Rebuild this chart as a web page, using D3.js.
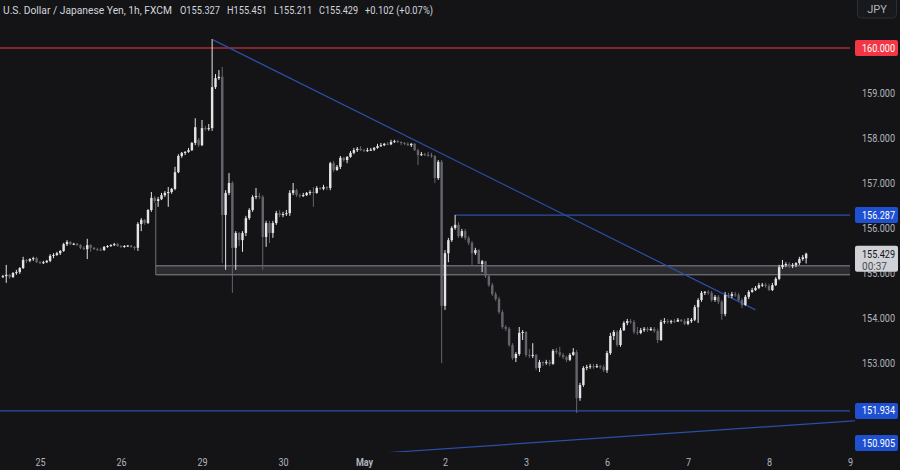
<!DOCTYPE html>
<html><head><meta charset="utf-8">
<script src="https://cdn.jsdelivr.net/npm/d3@7"></script>
<style>
html,body{margin:0;padding:0;background:#141417;}
svg{display:block;}
text{font-family:Roboto,"Noto Sans",sans-serif;}
</style></head><body>
<svg id="chart" width="900" height="470"></svg>
<script>
// ---------------- DATA ----------------
const firstBar = -11; // bar index of the first candle (bar 0 = first hour of Apr 25)
const opens = [
154.91,154.93,154.96,154.91,155.00,155.02,155.11,155.29,155.27,155.31,155.33,
155.24,155.22,155.24,155.27,155.38,155.40,155.44,155.49,155.64,155.69,
155.64,155.65,155.62,155.56,155.53,155.62,155.56,155.53,155.52,155.51,
155.58,155.60,155.62,155.64,155.60,155.58,155.60,155.61,155.58,155.56,
156.09,156.18,156.11,156.40,156.67,156.60,156.64,156.73,156.78,156.80,
156.87,157.24,157.60,157.67,157.69,157.73,157.89,157.96,157.84,158.22,
158.20,158.22,159.13,159.33,159.36,156.29,156.78,157.00,155.56,155.89,
155.73,155.89,156.22,156.40,156.69,156.71,156.69,155.80,156.11,155.89,
156.11,156.33,156.29,156.31,156.33,156.78,156.84,156.73,156.71,156.73,
156.78,156.80,156.78,156.89,156.87,156.91,156.89,157.44,157.29,157.36,
157.56,157.51,157.58,157.67,157.73,157.76,157.73,157.71,157.73,157.74,
157.78,157.82,157.84,157.87,157.86,157.91,157.93,157.91,157.89,157.87,
157.84,157.87,157.73,157.62,157.64,157.63,157.62,157.60,157.11,157.47,
154.27,155.44,155.73,156.00,156.07,155.82,155.93,155.78,155.67,155.44,
155.51,155.20,155.26,154.93,154.73,154.53,154.42,154.13,153.80,153.76,
153.40,153.11,153.20,153.67,153.69,153.18,153.16,153.18,152.89,153.02,
153.00,153.02,152.98,153.27,153.24,153.18,153.13,153.07,153.18,153.24,
152.22,152.51,152.89,152.91,152.93,152.91,152.93,152.91,152.84,153.22,
153.60,153.69,153.40,153.73,153.89,153.93,153.91,153.69,153.67,153.73,
153.76,153.73,153.76,153.71,153.51,153.91,153.93,153.91,153.93,153.92,
153.96,153.93,153.87,153.93,153.96,154.24,154.40,154.56,154.58,154.56,
154.40,154.47,154.36,154.09,154.51,154.49,154.53,154.51,154.40,154.29,
154.47,154.58,154.62,154.67,154.73,154.74,154.71,154.62,154.73,154.87,
155.13,155.18,155.20,155.16,155.18,155.22,155.31,155.327
];
const highs = [
154.96,155.18,154.98,155.02,155.07,155.13,155.36,155.31,155.33,155.36,155.36,
155.27,155.27,155.29,155.42,155.44,155.47,155.51,155.67,155.73,155.71,
155.67,155.67,155.64,155.60,155.76,155.64,155.58,155.56,155.56,155.60,
155.62,155.64,155.67,155.67,155.62,155.62,155.62,155.62,155.60,156.13,
156.22,156.20,156.42,156.80,156.71,156.69,156.78,156.82,156.91,156.89,
157.36,157.64,157.69,157.71,157.78,157.91,158.44,158.00,158.40,158.27,
158.31,160.20,159.42,159.51,159.58,156.84,157.22,157.04,155.93,155.91,
155.93,156.27,156.44,156.73,156.89,156.78,156.73,156.16,156.16,156.16,
156.38,156.40,156.36,156.40,156.84,157.00,156.87,156.76,156.78,156.80,
156.84,156.91,156.93,156.91,156.96,156.93,157.47,157.49,157.40,157.60,
157.58,157.60,157.71,157.78,157.80,157.82,157.76,157.78,157.78,157.80,
157.87,157.89,157.89,157.91,157.96,157.96,157.96,157.93,157.91,157.91,
157.89,157.89,157.76,157.69,157.67,157.69,157.67,157.62,157.51,157.51,
155.51,155.78,156.04,156.29,156.13,155.98,155.98,155.82,155.71,155.56,
155.53,155.29,155.27,154.98,154.78,154.58,154.47,154.18,153.84,153.80,
153.44,153.24,153.80,153.73,153.71,153.31,153.44,153.20,153.07,153.04,
153.07,153.07,153.31,153.33,153.36,153.22,153.16,153.22,153.33,153.29,
152.56,152.93,152.96,152.98,152.98,152.98,152.96,152.96,153.27,153.67,
153.73,153.73,153.78,153.93,153.98,153.98,153.96,153.80,153.78,153.80,
153.80,153.80,153.80,153.76,153.96,154.00,153.98,153.96,153.98,154.00,
153.98,153.98,154.00,154.00,154.29,154.44,154.60,154.60,154.62,154.60,
154.51,154.51,154.40,154.58,154.56,154.58,154.58,154.56,154.44,154.51,
154.62,154.67,154.71,154.78,154.78,154.78,154.76,154.78,154.91,155.18,
155.29,155.24,155.24,155.22,155.24,155.36,155.40,155.451
];
const lows = [
154.89,154.78,154.87,154.89,154.96,154.98,155.09,155.22,155.24,155.27,155.22,
155.20,155.20,155.22,155.24,155.33,155.38,155.40,155.47,155.60,155.62,
155.62,155.60,155.53,155.51,155.31,155.47,155.51,155.49,155.49,155.49,
155.56,155.58,155.60,155.58,155.56,155.56,155.58,155.56,155.51,155.49,
155.93,156.07,156.09,156.36,156.56,156.47,156.62,156.69,156.47,156.76,
156.84,157.22,157.56,157.62,157.67,157.71,157.84,157.80,157.82,158.16,
158.16,158.16,159.09,159.29,155.22,155.07,156.73,154.56,155.07,155.60,
155.47,155.82,156.18,156.36,156.64,156.64,155.07,155.58,155.67,155.78,
156.07,156.24,156.24,156.27,156.27,156.73,156.69,156.67,156.69,156.71,
156.73,156.47,156.76,156.84,156.84,156.84,156.84,157.24,157.27,157.31,
157.47,157.44,157.56,157.64,157.69,157.71,157.69,157.69,157.71,157.71,
157.76,157.80,157.82,157.84,157.84,157.89,157.89,157.84,157.84,157.82,
157.80,157.71,157.40,157.60,157.60,157.58,157.56,157.00,157.07,153.00,
154.18,155.24,155.69,155.96,155.78,155.78,155.73,155.62,155.18,155.40,
155.20,155.02,154.89,154.69,154.49,154.38,154.09,153.76,153.71,153.36,
153.07,153.02,153.16,153.51,153.13,153.11,153.11,152.84,152.80,152.93,
152.96,152.93,152.96,153.20,153.13,153.09,153.02,153.04,153.16,151.89,
152.16,152.47,152.84,152.87,152.87,152.89,152.87,152.80,152.78,153.18,
153.51,153.36,153.36,153.71,153.84,153.87,153.64,153.62,153.64,153.69,
153.69,153.71,153.67,153.44,153.49,153.87,153.87,153.87,153.89,153.91,
153.91,153.84,153.84,153.89,153.93,153.89,154.36,154.51,154.51,154.36,
154.36,154.31,153.96,154.04,154.44,154.44,154.47,154.36,154.22,154.27,
154.42,154.56,154.60,154.64,154.69,154.67,154.60,154.60,154.71,154.84,
155.09,155.13,155.11,155.11,155.13,155.18,155.27,155.211
];
const closes = [
154.93,154.96,154.91,155.00,155.02,155.11,155.29,155.27,155.31,155.33,155.24,
155.22,155.24,155.27,155.38,155.40,155.44,155.49,155.64,155.69,155.64,
155.65,155.62,155.56,155.53,155.62,155.56,155.53,155.52,155.51,155.58,
155.60,155.62,155.64,155.60,155.58,155.60,155.61,155.58,155.56,156.09,
156.18,156.11,156.40,156.67,156.60,156.64,156.73,156.78,156.80,156.87,
157.24,157.60,157.67,157.69,157.73,157.89,158.24,157.84,158.22,158.20,
158.22,159.13,159.33,159.36,156.29,156.78,157.00,155.56,155.89,155.73,
155.89,156.22,156.40,156.69,156.71,156.69,155.80,156.11,155.89,156.11,
156.33,156.29,156.31,156.33,156.78,156.84,156.73,156.71,156.73,156.78,
156.80,156.78,156.89,156.87,156.91,156.89,157.44,157.29,157.36,157.56,
157.51,157.58,157.67,157.73,157.76,157.73,157.71,157.73,157.74,157.78,
157.82,157.84,157.87,157.86,157.91,157.93,157.91,157.89,157.87,157.84,
157.87,157.73,157.62,157.64,157.63,157.62,157.60,157.11,157.47,154.27,
155.44,155.73,156.00,156.07,155.82,155.93,155.78,155.67,155.44,155.51,
155.20,155.26,154.93,154.73,154.53,154.42,154.13,153.80,153.76,153.40,
153.11,153.20,153.67,153.69,153.18,153.16,153.18,152.89,153.02,153.00,
153.02,152.98,153.27,153.24,153.18,153.13,153.07,153.18,153.24,152.22,
152.51,152.89,152.91,152.93,152.91,152.93,152.91,152.84,153.22,153.60,
153.69,153.40,153.73,153.89,153.93,153.91,153.69,153.67,153.73,153.76,
153.73,153.76,153.71,153.51,153.91,153.93,153.91,153.93,153.92,153.96,
153.93,153.87,153.93,153.96,154.24,154.40,154.56,154.58,154.56,154.40,
154.47,154.36,154.09,154.51,154.49,154.53,154.51,154.40,154.29,154.47,
154.58,154.62,154.67,154.73,154.74,154.71,154.62,154.73,154.87,155.13,
155.18,155.20,155.16,155.18,155.22,155.31,155.35,155.429
];

const dayTickBars   = [0, 24, 48, 72, 96, 120, 144, 168, 192, 216, 240];
const dayTickLabels = ["25","26","29","30","May","2","3","6","7","8","9"];
const priceTicks    = [153, 154, 155, 156, 157, 158, 159];

const symbolTitle = "U.S. Dollar / Japanese Yen, 1h, FXCM";
const headerValues = ["O155.327","H155.451","L155.211","C155.429","+0.102 (+0.07%)"];
const currencyLabel = "JPY";
const countdown = "00:37";

const redLevel = 160.000;
const resistanceLevel = {price: 156.287, fromBar: 123};
const supportLevel = 151.934;
const lowerTrendLabel = 150.905;
const upperTrend = [[51.3, 160.18], [212, 154.18]];
const lowerTrend = [[80, 150.89], [240, 151.71]];
const zone = {fromBar: 34.3, top: 155.16, bottom: 154.96, stemTop: 156.56};

// ---------------- LAYOUT ----------------
const W = 900, H = 470;
const plotRight = 850, paneBottom = 452;
const svg = d3.select("#chart");
svg.append("rect").attr("width", W).attr("height", H).attr("fill", "#141417");

const x = d3.scaleLinear().domain([-12, 240]).range([-0.5, plotRight]);
const y = d3.scaleLinear().domain([150, 161]).range([498, 3]);

const upCol = "#e4e4e6", downCol = "#63656c";
const blue = "#2b4ea6", blueLabel = "#1f50d2", red = "#f23645";
const axisText = "#b2b5be";

const plot = svg.append("g");
svg.append("clipPath").attr("id","pane").append("rect")
  .attr("x",0).attr("y",0).attr("width",plotRight).attr("height",paneBottom);
plot.attr("clip-path","url(#pane)");

// zone
plot.append("line")
  .attr("x1", x(zone.fromBar)).attr("x2", x(zone.fromBar))
  .attr("y1", y(zone.stemTop)).attr("y2", y(zone.bottom))
  .attr("stroke", "#6e7077").attr("stroke-width", 1);
plot.append("rect")
  .attr("x", x(zone.fromBar)).attr("y", y(zone.top))
  .attr("width", plotRight - x(zone.fromBar)).attr("height", y(zone.bottom) - y(zone.top))
  .attr("fill", "rgba(130,132,140,0.22)");
[zone.top, zone.bottom].forEach(p => plot.append("line")
  .attr("x1", x(zone.fromBar)).attr("x2", plotRight)
  .attr("y1", y(p)).attr("y2", y(p))
  .attr("stroke", "#85878e").attr("stroke-width", 1));

// horizontal levels
plot.append("line").attr("x1",0).attr("x2",plotRight)
  .attr("y1",y(redLevel)).attr("y2",y(redLevel)).attr("stroke",red).attr("stroke-width",1.2);
plot.append("line").attr("x1",x(resistanceLevel.fromBar)).attr("x2",plotRight)
  .attr("y1",y(resistanceLevel.price)).attr("y2",y(resistanceLevel.price)).attr("stroke",blue).attr("stroke-width",1.2);
plot.append("line").attr("x1",0).attr("x2",plotRight)
  .attr("y1",y(supportLevel)).attr("y2",y(supportLevel)).attr("stroke",blue).attr("stroke-width",1.2);

// trendlines
[upperTrend, lowerTrend].forEach(t => plot.append("line")
  .attr("x1", x(t[0][0])).attr("y1", y(t[0][1]))
  .attr("x2", x(t[1][0])).attr("y2", y(t[1][1]))
  .attr("stroke", blue).attr("stroke-width", 1.2));

// candles
const n = Math.min(opens.length, highs.length, lows.length, closes.length);
const candles = d3.range(n).map(k => ({bar: firstBar + k, o: opens[k], h: highs[k], l: lows[k], c: closes[k]}));
const step = x(1) - x(0);
const bw = step * 0.72;
const cg = plot.append("g");
cg.selectAll("line.wick").data(candles).join("line").attr("class","wick")
  .attr("x1", d => x(d.bar)).attr("x2", d => x(d.bar))
  .attr("y1", d => y(d.h)).attr("y2", d => y(d.l))
  .attr("stroke", d => d.c >= d.o ? upCol : downCol).attr("stroke-width", 1);
cg.selectAll("rect.body").data(candles).join("rect").attr("class","body")
  .attr("x", d => x(d.bar) - bw/2).attr("width", bw)
  .attr("y", d => y(Math.max(d.o, d.c)))
  .attr("height", d => Math.max(1, Math.abs(y(d.o) - y(d.c))))
  .attr("fill", d => d.c >= d.o ? upCol : downCol);

// ---------------- AXES ----------------
const xAxis = svg.append("g").attr("transform", `translate(0,${paneBottom})`)
  .call(d3.axisBottom(x).tickValues(dayTickBars).tickSize(0).tickPadding(6)
    .tickFormat((d,i) => dayTickLabels[i]));
xAxis.select(".domain").remove();
xAxis.selectAll("text").attr("fill", axisText).attr("font-size", 11)
  .attr("font-weight", (d,i) => dayTickLabels[i] === "May" ? "bold" : "normal")
  .attr("transform", "scale(0.82,1)")
  .attr("font-family", "Roboto, sans-serif");

const yAxis = svg.append("g").attr("transform", `translate(${plotRight},0)`)
  .call(d3.axisRight(y).tickValues(priceTicks).tickSize(0).tickFormat(d3.format(".3f")));
yAxis.select(".domain").remove();
yAxis.selectAll("text").attr("fill", axisText).attr("font-size", 10)
  .attr("font-family", "Roboto, sans-serif")
  .attr("x", 45).attr("text-anchor", "end")
  .attr("textLength", 33).attr("lengthAdjust", "spacingAndGlyphs");

// price labels
function priceLabel(p, bg, cy) {
  const g = svg.append("g");
  g.append("rect").attr("x", 855).attr("y", cy - 8).attr("width", 43).attr("height", 16)
    .attr("rx", 2).attr("fill", bg);
  g.append("text").attr("x", 895).attr("y", cy).attr("dy", "0.35em").attr("text-anchor", "end")
    .attr("fill", "#ffffff").attr("font-size", 10)
    .attr("textLength", 33).attr("lengthAdjust", "spacingAndGlyphs")
    .text(d3.format(".3f")(p));
}
priceLabel(redLevel, red, y(redLevel));
priceLabel(resistanceLevel.price, blueLabel, y(resistanceLevel.price));
priceLabel(supportLevel, blueLabel, y(supportLevel));
priceLabel(lowerTrendLabel, blueLabel, Math.min(y(lowerTrendLabel), paneBottom - 9));
// short piece of the lower trendline entering the price scale
svg.append("line").attr("x1", plotRight).attr("x2", 855)
  .attr("y1", y(lowerTrend[1][1])).attr("y2", y(lowerTrend[1][1]) - 0.3)
  .attr("stroke", blue).attr("stroke-width", 1.2);

// current price label
const last = candles[candles.length - 1];
const cy = y(last.c);
svg.append("rect").attr("x", 855).attr("y", cy - 8).attr("width", 43).attr("height", 26)
  .attr("rx", 2).attr("fill", "#d0d2d7");
svg.append("text").attr("x", 895).attr("y", cy + 1).attr("dy", "0.35em").attr("text-anchor", "end")
  .attr("fill", "#131316").attr("font-size", 10)
  .attr("textLength", 33).attr("lengthAdjust", "spacingAndGlyphs")
  .text(d3.format(".3f")(last.c));
svg.append("text").attr("x", 862).attr("y", cy + 12.5).attr("dy", "0.35em")
  .attr("fill", "#4a4c52").attr("font-size", 10)
  .attr("textLength", 25).attr("lengthAdjust", "spacingAndGlyphs")
  .text(countdown);

// currency button
svg.append("rect").attr("x", 857.5).attr("y", -3).attr("width", 39).attr("height", 21)
  .attr("rx", 4).attr("fill", "#18191d").attr("stroke", "#2c2e35");
svg.append("text").attr("x", 877).attr("y", 9).attr("dy", "0.35em").attr("text-anchor", "middle")
  .attr("fill", axisText).attr("font-size", 11).text(currencyLabel);

// header
const header = svg.append("g").attr("font-size", 10.3).attr("fill", "#d1d4dc");
header.append("text").attr("x", 3).attr("y", 10).attr("dy", "0.35em")
  .attr("textLength", 169).attr("lengthAdjust", "spacingAndGlyphs").text(symbolTitle);
const hx = [180, 227, 274, 319, 365], hl = [40, 40, 38, 39, 68];
headerValues.forEach((t, i) => header.append("text").attr("x", hx[i]).attr("y", 10).attr("dy", "0.35em")
  .attr("textLength", hl[i]).attr("lengthAdjust", "spacingAndGlyphs").text(t));
</script>
</body></html>
